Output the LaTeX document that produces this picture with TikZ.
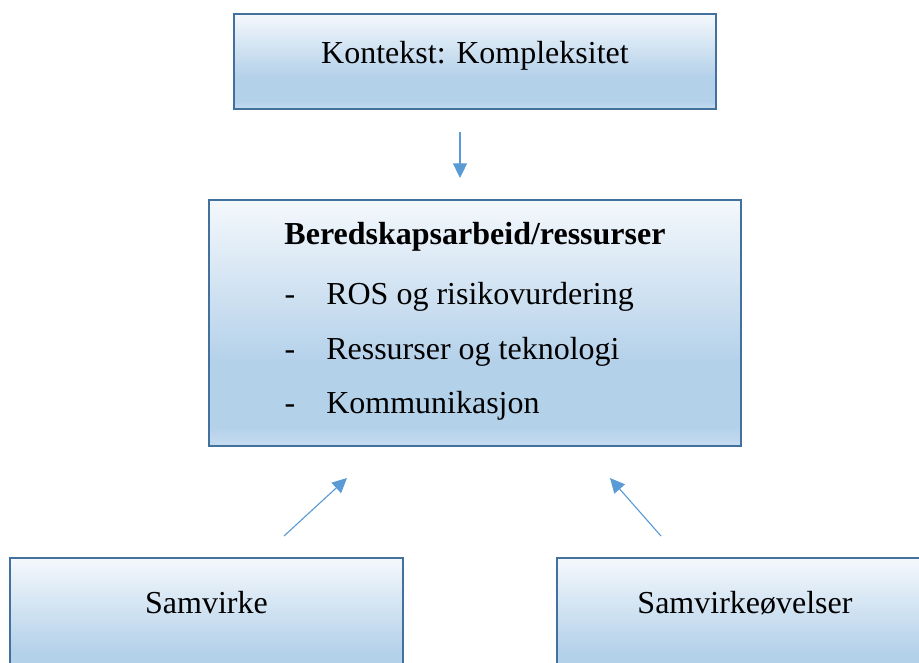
\documentclass[tikz,border=0pt]{standalone}
\usepackage{fontspec}
\setmainfont{Liberation Serif}
\usetikzlibrary{arrows.meta}
\definecolor{bordc}{HTML}{41719C}
\definecolor{arrc}{HTML}{5B9BD5}
\definecolor{shT}{HTML}{F4F8FC}
\definecolor{shD}{HTML}{B4D1EA}
\definecolor{shB}{HTML}{C6DCF0}
\pgfdeclareverticalshading{boxshade}{100bp}{color(0bp)=(shB); color(25bp)=(shB); color(29bp)=(shD); color(42bp)=(shD); color(75bp)=(shT); color(100bp)=(shT)}
\tikzset{
  boxnode/.style={draw=bordc, line width=1.7pt, shading=boxshade, rectangle, inner sep=0pt},
  txt/.style={font=\fontsize{24}{28}\selectfont, anchor=base, inner sep=0pt},
  conn/.style={draw=arrc, line width=0.85pt, -{Triangle[length=11pt,width=10.5pt]}}
}
\begin{document}
\begin{tikzpicture}[x=0.75pt,y=-0.75pt]
\useasboundingbox (0,0) rectangle (919,662);
\clip (0,0) rectangle (919,662);
% boxes
\node[boxnode, minimum width=361.5pt, minimum height=71.25pt] (ctx) at (475,61.5) {};
\node[boxnode, minimum width=399pt, minimum height=184.5pt] (mid) at (475,323) {};
\node[boxnode, minimum width=294.75pt, minimum height=106.5pt] (sam) at (206.5,629) {};
\node[boxnode, minimum width=282pt, minimum height=106.5pt] (samo) at (745,629) {};
% texts
\node[txt] (ctxt) at (475,63) {Kontekst: Kompleksitet};
\node[txt, font=\fontsize{24}{28}\selectfont\bfseries] (midt) at (475,244) {Beredskapsarbeid/ressurser};
\node[txt] (d1) at (290,304) {-};
\node[txt, anchor=base west] (l1) at (326,304) {ROS og risikovurdering};
\node[txt] (d2) at (290,359) {-};
\node[txt, anchor=base west] (l2) at (326,359) {Ressurser og teknologi};
\node[txt] (d3) at (290,413) {-};
\node[txt, anchor=base west] (l3) at (326,413) {Kommunikasjon};
\node[txt] (samt) at (206.5,613) {Samvirke};
\node[txt] (samot) at (745,613) {Samvirkeøvelser};
% arrows
\coordinate (a1s) at (460,132);
\coordinate (a1e) at (460,178);
\coordinate (a2s) at (284,536);
\coordinate (a2e) at (347,478);
\coordinate (a3s) at (661,536);
\coordinate (a3e) at (610,478);
\draw[conn] (a1s) -- (a1e);
\draw[conn] (a2s) -- (a2e);
\draw[conn] (a3s) -- (a3e);
\end{tikzpicture}
\end{document}
